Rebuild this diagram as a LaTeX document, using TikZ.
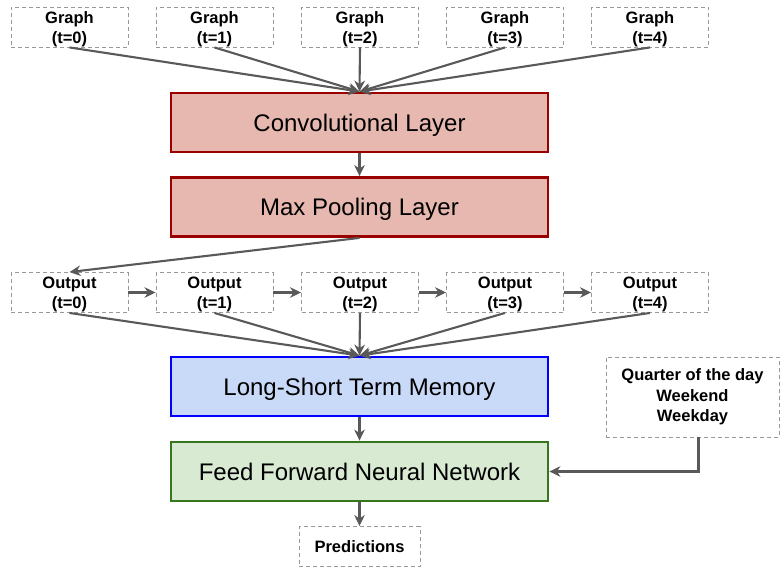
\documentclass[tikz,border=0pt]{standalone}
\usepackage{fontspec}
\setmainfont{Liberation Sans}
\usetikzlibrary{arrows.meta,calc}
\definecolor{convfill}{HTML}{E6B8AF}
\definecolor{convdraw}{HTML}{990000}
\definecolor{lstmfill}{HTML}{C9DAF8}
\definecolor{lstmdraw}{HTML}{0000FF}
\definecolor{fffill}{HTML}{D9EAD3}
\definecolor{ffdraw}{HTML}{38761D}
\definecolor{dashgray}{HTML}{999999}
\definecolor{arrgray}{HTML}{595959}
\tikzset{
  smallbox/.style={draw=dashgray, dashed, line width=0.9pt, dash pattern=on 4pt off 3pt,
    minimum width=117pt, minimum height=40pt, inner sep=0pt, align=center,
    font=\fontsize{16.5}{20.5}\selectfont\bfseries},
  bigbox/.style={line width=2.8pt, minimum width=377pt, minimum height=59pt, inner sep=0pt,
    text height=17.2pt, text depth=0pt, font=\fontsize{24}{28}\selectfont},
  conv/.style={bigbox, draw=convdraw, fill=convfill},
  lstm/.style={bigbox, draw=lstmdraw, fill=lstmfill},
  ffnn/.style={bigbox, draw=ffdraw, fill=fffill},
  arr/.style={draw=arrgray, line width=2.1pt, -{Stealth[length=11pt,width=10.5pt,inset=3.5pt]}},
}
\newcommand{\twoline}[2]{\raisebox{-2pt}[\height][\depth]{\shortstack{#1\\[1.5pt]#2}}}
\begin{document}
\begin{tikzpicture}[x=1pt,y=-1pt]
\useasboundingbox (0,0) rectangle (782,567);
\foreach \i/\x in {0/69.5,1/214.5,2/360,3/505,4/650}{
  \node[smallbox] (g\i) at (\x,27) {\twoline{Graph}{(t=\i)}};
  \node[smallbox] (o\i) at (\x,292.5) {\twoline{Output}{(t=\i)}};
}
\node[conv] (conv) at (359.5,122.5) {Convolutional Layer};
\node[conv] (pool) at (359.5,207) {Max Pooling Layer};
\node[lstm] (lstm) at (359.5,386.5) {Long-Short Term Memory};
\node[ffnn] (ffnn) at (359.5,471.5) {Feed Forward Neural Network};
\node[smallbox, minimum width=121pt] (pred) at (359.5,546.5) {Predictions};
\node[smallbox, minimum width=173pt, minimum height=80pt] (quart) at (692.5,397) {Quarter of the day\\Weekend\\Weekday};
\coordinate (qs) at ($(quart.south)+(6,0)$);
\foreach \i in {0,...,4}{
  \draw[arr] (g\i.south) -- (conv.north);
  \draw[arr] (o\i.south) -- (lstm.north);
}
\draw[arr] (conv) -- (pool);
\draw[arr] (pool.south) -- (o0.north);
\draw[arr] (o0) -- (o1);
\draw[arr] (o1) -- (o2);
\draw[arr] (o2) -- (o3);
\draw[arr] (o3) -- (o4);
\draw[arr] (lstm) -- (ffnn);
\draw[arr] (ffnn) -- (pred);
\draw[arr] (qs) |- (ffnn.east);
\end{tikzpicture}
\end{document}
